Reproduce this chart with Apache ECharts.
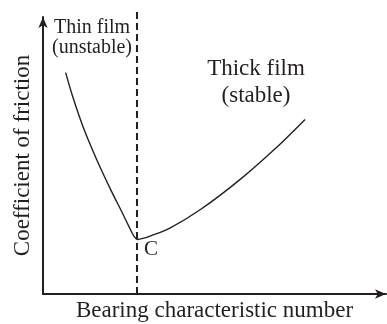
<!DOCTYPE html>
<html>
<head>
<meta charset="utf-8">
<script src="https://cdn.jsdelivr.net/npm/echarts@6/dist/echarts.min.js"></script>
<style>
  html, body { margin: 0; padding: 0; background: #fff; }
  #chart { width: 387px; height: 324px; }
</style>
</head>
<body>
<div id="chart"></div>
<script>
// friction curve (x: bearing number, y: coefficient, both 0..100)
const curveX = [6.6, 8.7, 11.7, 15.7, 19.8, 23.0, 25.4, 26.5, 27.6, 29.2, 31.2, 37.0, 45.8, 57.4, 69.1, 76.4]
const curveY = [79.9, 71.1, 60.3, 48.4, 37.5, 29.6, 23.5, 20.9, 19.7, 20.1, 20.9, 23.8, 30.4, 41.3, 54.1, 63.0]

// boundary between thin and thick film (point C)
const boundaryX = 27.4
const boundaryY = [0, 101.8]

// annotation texts and where they sit
const noteText = ['Thin film\n(unstable)', 'Thick film\n(stable)', 'C']
const noteX = [14.3, 62.1, 31.5]
const noteY = [92.4, 76.5, 15.9]

const ink = '#231f20'
const serif = 'Liberation Serif'

const chart = echarts.init(document.getElementById('chart'))

const axisCommon = {
  type: 'value',
  min: 0,
  max: 100,
  axisLine: {
    show: true,
    symbol: ['none', 'arrow'],
    symbolSize: [7, 11],
    lineStyle: { color: ink, width: 2 }
  },
  axisTick: { show: false },
  axisLabel: { show: false },
  splitLine: { show: false },
  nameLocation: 'middle',
  nameTextStyle: { color: ink, fontFamily: serif, fontSize: 23 }
}

const option = {
  animation: false,
  grid: { left: 43, right: 1, top: 17, bottom: 30, containLabel: false, outerBoundsMode: 'none' },
  xAxis: Object.assign({}, axisCommon, {
    name: 'Bearing characteristic number',
    nameGap: 5
  }),
  yAxis: Object.assign({}, axisCommon, {
    name: 'Coefficient of friction',
    nameGap: 9,
    nameRotate: 90
  }),
  series: [
    {
      name: 'friction',
      type: 'line',
      smooth: 0.3,
      showSymbol: false,
      lineStyle: { color: ink, width: 1.4 },
      data: curveX.map((x, i) => [x, curveY[i]])
    },
    {
      name: 'boundary',
      type: 'line',
      showSymbol: false,
      clip: false,
      lineStyle: { color: ink, width: 2, type: [7, 4] },
      data: boundaryY.map(y => [boundaryX, y])
    },
    {
      name: 'notes',
      type: 'scatter',
      symbolSize: 0,
      clip: false,
      itemStyle: { opacity: 1 },
      label: {
        show: true,
        position: 'inside',
        formatter: p => p.name,
        color: ink,
        fontFamily: serif,
        align: 'center',
        verticalAlign: 'middle'
      },
      data: noteText.map((t, i) => ({
        name: t,
        value: [noteX[i], noteY[i]],
        label: i === 0 ? { color: ink, fontSize: 20, lineHeight: 20 }
          : i === 1 ? { color: ink, fontSize: 23, lineHeight: 27 }
          : { color: ink, fontSize: 21 }
      }))
    }
  ]
}

chart.setOption(option, true)
</script>
</body>
</html>
